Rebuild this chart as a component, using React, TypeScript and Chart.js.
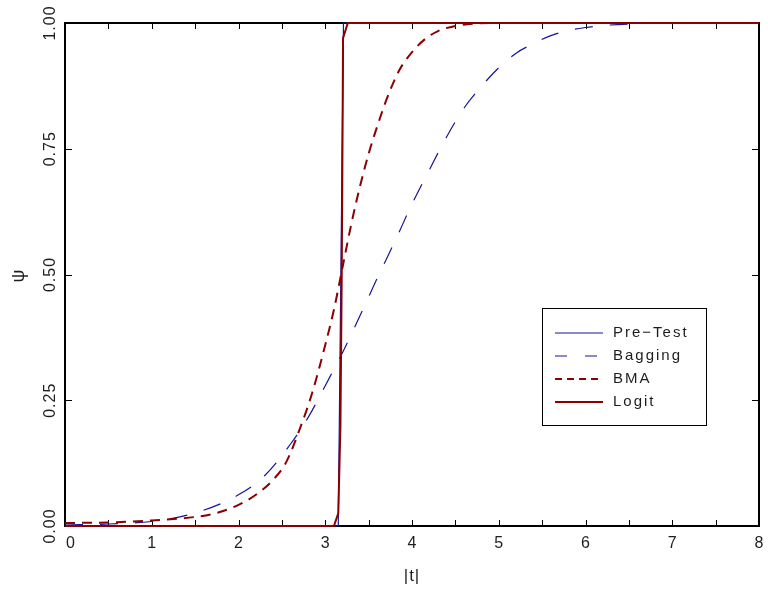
import React, { useEffect, useRef } from 'react';
import { Chart, registerables } from 'chart.js';

Chart.register(...registerables);

// ---- data ----
const seriesLabels = ['Pre\u2212Test', 'Bagging', 'BMA', 'Logit'];

const preTestX = [0, 3.15, 3.21, 8];
const preTestY = [0, 0, 1, 1];

const baggingX = [0, 0.5, 1.0, 1.5, 2.0, 2.3, 2.6, 2.8, 3.0, 3.2, 3.4, 3.6, 3.8, 4.0, 4.2, 4.4, 4.6, 4.8, 5.0, 5.2, 5.4, 5.6, 5.8, 6.0, 6.2, 6.5, 7.0, 8.0];
const baggingY = [0.002, 0.004, 0.009, 0.026, 0.062, 0.1, 0.163, 0.215, 0.279, 0.345, 0.418, 0.493, 0.565, 0.64, 0.708, 0.774, 0.831, 0.874, 0.911, 0.94, 0.959, 0.975, 0.985, 0.991, 0.995, 0.998, 1.0, 1.0];

const bmaX = [0, 0.5, 1.0, 1.5, 1.75, 2.0, 2.2, 2.4, 2.55, 2.7, 2.85, 3.0, 3.1, 3.2, 3.3, 3.4, 3.5, 3.6, 3.7, 3.85, 4.0, 4.15, 4.3, 4.5, 4.75, 5.0, 8.0];
const bmaY = [0.006, 0.007, 0.011, 0.018, 0.026, 0.042, 0.062, 0.092, 0.127, 0.19, 0.265, 0.36, 0.43, 0.515, 0.6, 0.675, 0.74, 0.795, 0.845, 0.905, 0.942, 0.968, 0.984, 0.994, 0.999, 1.0, 1.0];

const logitX = [0, 3.1, 3.15, 3.175, 3.19, 3.2, 3.205, 3.26, 8];
const logitY = [0, 0, 0.025, 0.2, 0.5, 0.8, 0.97, 1, 1];

const xTickValues = [0, 1, 2, 3, 4, 5, 6, 7, 8];
const xTickLabels = ['0', '1', '2', '3', '4', '5', '6', '7', '8'];
const xMinorTickValues = [0.5, 1.5, 2.5, 3.5, 4.5, 5.5, 6.5, 7.5];
const yTickValues = [0, 0.25, 0.5, 0.75, 1];
const yTickLabels = ['0.00', '0.25', '0.50', '0.75', '1.00'];
const xTitle = '|t|';
const yTitle = '\u03C8';

const BLUE = '#14149c';
const RED = '#8b0000';
const TEXT = '#1e1e1e';
const FONT = '"Liberation Sans", Arial, sans-serif';

function pts(xs: number[], ys: number[]) {
  return xs.map((x, i) => ({ x, y: ys[i] }));
}

const framePlugin = {
  id: 'frameTicks',
  beforeDatasetsDraw(chart: any) {
    const { ctx, chartArea: a, scales } = chart;
    const xs = scales.x;
    const ys = scales.y;
    ctx.save();
    ctx.strokeStyle = '#000';
    ctx.lineWidth = 2;
    ctx.strokeRect(a.left, a.top, a.right - a.left, a.bottom - a.top);
    ctx.lineWidth = 1;
    const tl = 6;
    [...xTickValues, ...xMinorTickValues].forEach((v) => {
      const px = Math.round(xs.getPixelForValue(v)) + 0.5;
      ctx.beginPath();
      ctx.moveTo(px, a.bottom);
      ctx.lineTo(px, a.bottom - tl);
      ctx.moveTo(px, a.top);
      ctx.lineTo(px, a.top + tl);
      ctx.stroke();
    });
    yTickValues.forEach((v) => {
      const py = Math.round(ys.getPixelForValue(v)) + 0.5;
      ctx.beginPath();
      ctx.moveTo(a.left, py);
      ctx.lineTo(a.left + tl + 1, py);
      ctx.moveTo(a.right, py);
      ctx.lineTo(a.right - tl - 1, py);
      ctx.stroke();
    });
    ctx.restore();
  },
  afterDraw(chart: any) {
    const { ctx, chartArea: a, scales } = chart;
    const xs = scales.x;
    const ys = scales.y;
    ctx.save();
    ctx.fillStyle = TEXT;
    // x tick labels
    ctx.font = `16px ${FONT}`;
    (ctx as any).letterSpacing = '1px';
    ctx.textBaseline = 'middle';
    xTickValues.forEach((v, i) => {
      const px = xs.getPixelForValue(v);
      if (i === 0) {
        ctx.textAlign = 'left';
        ctx.fillText(xTickLabels[i], px + 1, a.bottom + 18);
      } else {
        ctx.textAlign = 'center';
        ctx.fillText(xTickLabels[i], px + 0.5, a.bottom + 18);
      }
    });
    // y tick labels (rotated)
    yTickValues.forEach((v, i) => {
      const py = ys.getPixelForValue(v);
      ctx.save();
      ctx.translate(a.left - 14, py);
      ctx.rotate(-Math.PI / 2);
      ctx.textAlign = 'center';
      ctx.textBaseline = 'middle';
      ctx.fillText(yTickLabels[i], 0, 0);
      ctx.restore();
    });
    // axis titles
    ctx.font = `17px ${FONT}`;
    ctx.textAlign = 'center';
    ctx.textBaseline = 'middle';
    ctx.fillText(xTitle, (a.left + a.right) / 2, a.bottom + 50);
    ctx.save();
    ctx.translate(a.left - 46, (a.top + a.bottom) / 2 + 1);
    ctx.rotate(-Math.PI / 2);
    ctx.font = `18px ${FONT}`;
    ctx.fillText(yTitle, 0, 0);
    ctx.restore();

    // legend box
    const bx = 542, by = 308, bw = 164, bh = 117;
    ctx.fillStyle = '#fff';
    ctx.fillRect(bx, by, bw, bh);
    ctx.strokeStyle = '#000';
    ctx.lineWidth = 1;
    ctx.strokeRect(bx + 0.5, by + 0.5, bw, bh);
    ctx.font = `15px ${FONT}`;
    (ctx as any).letterSpacing = '2px';
    ctx.textAlign = 'left';
    ctx.textBaseline = 'middle';
    chart.data.datasets.forEach((ds: any, i: number) => {
      const y = by + 25 + i * 23;
      ctx.save();
      ctx.strokeStyle = ds.borderColor;
      ctx.lineWidth = ds.borderWidth;
      ctx.setLineDash(ds.legendDash || []);
      ctx.beginPath();
      ctx.moveTo(bx + 13, y);
      ctx.lineTo(bx + 61, y);
      ctx.stroke();
      ctx.restore();
      ctx.fillStyle = TEXT;
      ctx.fillText(ds.label, bx + 71, y);
    });
    ctx.restore();
  },
};

export default function App() {
  const ref = useRef<HTMLCanvasElement>(null);
  useEffect(() => {
    const canvas = ref.current;
    if (!canvas) return;
    const chart = new Chart(canvas, {
      type: 'line',
      data: {
        datasets: [
          {
            label: seriesLabels[0],
            data: pts(preTestX, preTestY),
            borderColor: BLUE,
            borderWidth: 1.2,
            pointRadius: 0,
            tension: 0,
            order: 4,
            clip: false,
            legendDash: [],
          } as any,
          {
            label: seriesLabels[1],
            data: pts(baggingX, baggingY),
            borderColor: BLUE,
            borderWidth: 1.2,
            borderDash: [18, 17],
            pointRadius: 0,
            cubicInterpolationMode: 'monotone',
            order: 3,
            clip: false,
            legendDash: [12, 18],
          } as any,
          {
            label: seriesLabels[2],
            data: pts(bmaX, bmaY),
            borderColor: RED,
            borderWidth: 2,
            borderDash: [10, 7],
            pointRadius: 0,
            cubicInterpolationMode: 'monotone',
            order: 2,
            clip: false,
            legendDash: [7, 5],
          } as any,
          {
            label: seriesLabels[3],
            data: pts(logitX, logitY),
            borderColor: RED,
            borderWidth: 2,
            pointRadius: 0,
            tension: 0,
            order: 1,
            clip: false,
            legendDash: [],
          } as any,
        ],
      },
      options: {
        animation: false,
        responsive: false,
        devicePixelRatio: 1,
        layout: { padding: { left: 65, right: 9, top: 23, bottom: 66 } },
        plugins: { legend: { display: false }, tooltip: { enabled: false } },
        scales: {
          x: { type: 'linear', min: 0, max: 8, display: false },
          y: { type: 'linear', min: 0, max: 1, display: false },
        },
      },
      plugins: [framePlugin],
    });
    return () => chart.destroy();
  }, []);
  return (
    <div style={{ position: 'fixed', left: 0, top: 0, width: 768, height: 592, background: '#fff' }}>
      <canvas ref={ref} width={768} height={592} style={{ display: 'block', width: 768, height: 592 }} />
    </div>
  );
}
